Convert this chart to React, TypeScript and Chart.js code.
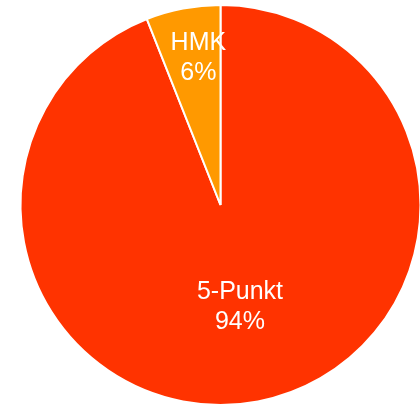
import React, { useEffect, useRef } from "react";
import { Chart, registerables } from "chart.js";

Chart.register(...registerables);

const categories = ["5-Punkt", "HMK"];
const values = [94, 6];
const valueLabels = ["94%", "6%"];
const colors = ["#FF3300", "#FF9900"];
const labelRadiusFractions = [0.52, 0.75];
const labelNudgeX = [0, 6];

const sliceLabelPlugin = {
  id: "sliceLabels",
  afterDatasetsDraw(chart: any) {
    const ctx = chart.ctx;
    const meta = chart.getDatasetMeta(0);
    ctx.save();
    ctx.fillStyle = "#ffffff";
    ctx.font = "25px 'Liberation Sans', Arial, sans-serif";
    ctx.textAlign = "center";
    ctx.textBaseline = "middle";
    meta.data.forEach((arc: any, i: number) => {
      const p = arc.getProps(["x", "y", "startAngle", "endAngle", "outerRadius"], true);
      const mid = (p.startAngle + p.endAngle) / 2;
      const r = p.outerRadius * labelRadiusFractions[i];
      const cx = p.x + Math.cos(mid) * r + labelNudgeX[i];
      const cy = p.y + Math.sin(mid) * r;
      ctx.fillText(categories[i], cx, cy - 15);
      ctx.fillText(valueLabels[i], cx, cy + 15);
    });
    ctx.restore();
  },
};

export default function App() {
  const ref = useRef<HTMLCanvasElement | null>(null);
  useEffect(() => {
    if (!ref.current) return;
    const chart = new Chart(ref.current, {
      type: "pie",
      data: {
        labels: categories,
        datasets: [
          {
            data: values,
            backgroundColor: colors,
            borderColor: "#ffffff",
            borderWidth: 2,
          },
        ],
      },
      options: {
        responsive: false,
        animation: false,
        layout: { padding: { left: 5, right: 5, top: 4, bottom: 6 } },
        plugins: {
          legend: { display: false },
          tooltip: { enabled: false },
        },
      },
      plugins: [sliceLabelPlugin],
    });
    return () => chart.destroy();
  }, []);
  return (
    <div
      style={{
        position: "absolute",
        left: 0,
        top: 0,
        width: 420,
        height: 410,
        overflow: "hidden",
        background: "#ffffff",
      }}
    >
      <canvas ref={ref} width={441} height={412} style={{ display: "block" }} />
    </div>
  );
}
